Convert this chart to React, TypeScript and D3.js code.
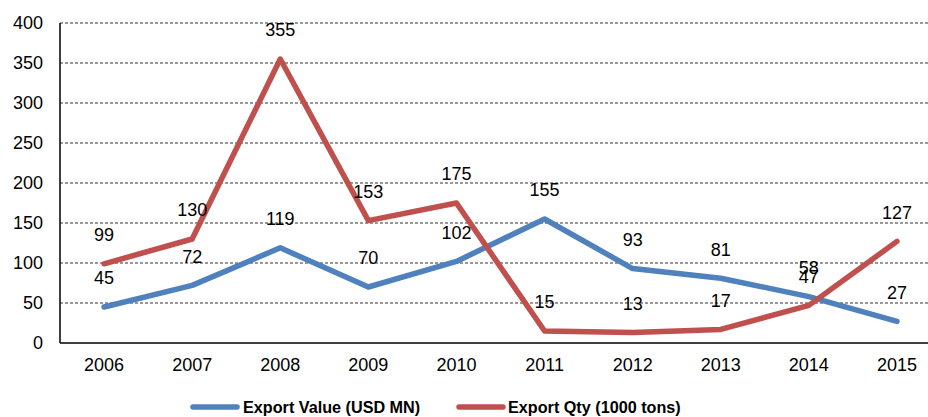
import React from "react";
import * as d3 from "d3";

const years = ["2006","2007","2008","2009","2010","2011","2012","2013","2014","2015"];
const exportValue = [45, 72, 119, 70, 102, 155, 93, 81, 58, 27];
const exportQty = [99, 130, 355, 153, 175, 15, 13, 17, 47, 127];
const yTicks = [0, 50, 100, 150, 200, 250, 300, 350, 400];
const seriesNames = ["Export Value (USD MN)", "Export Qty (1000 tons)"];

const W = 928, H = 417;
const left = 60, bottom = 343, top = 23;
const step = 88.1;

export default function App() {
  const x = d3.scaleBand().domain(years).range([left, left + step * years.length]).paddingInner(0).paddingOuter(0);
  const cx = (d: string) => (x(d) as number) + x.bandwidth() / 2;
  const y = d3.scaleLinear().domain([0, 400]).range([bottom, top]);
  const line = d3.line<number>().x((_, i) => cx(years[i])).y((v) => y(v));
  const font = "Arial, 'Liberation Sans', sans-serif";
  const series = [
    { data: exportValue, color: "#4F81BD" },
    { data: exportQty, color: "#C0504D" },
  ];
  return (
    <svg width={W} height={H} style={{ position: "absolute", left: 0, top: 0 }} fontFamily={font}>
      <rect width={W} height={H} fill="#fff" />
      {yTicks.filter((t) => t > 0).map((t) => (
        <line key={t} x1={left} x2={W} y1={y(t)} y2={y(t)} stroke="#333" strokeWidth={1} strokeDasharray="3,2" />
      ))}
      {yTicks.map((t) => (
        <text key={t} x={43} y={y(t)} dy="0.35em" textAnchor="end" fontSize={18} fill="#000">{t}</text>
      ))}
      <line x1={left} x2={left} y1={top} y2={bottom} stroke="#000" strokeWidth={1.5} />
      <line x1={left} x2={W} y1={bottom} y2={bottom} stroke="#000" strokeWidth={1.5} />
      {years.map((yr) => (
        <text key={yr} x={cx(yr)} y={365} dy="0.35em" textAnchor="middle" fontSize={18} fill="#000">{yr}</text>
      ))}
      {series.map((s, i) => (
        <path key={i} d={line(s.data) || ""} fill="none" stroke={s.color} strokeWidth={5.5} strokeLinecap="round" strokeLinejoin="round" />
      ))}
      {series.map((s, i) =>
        s.data.map((v, j) => (
          <text key={`${i}-${j}`} x={cx(years[j])} y={y(v) - 29} dy="0.35em" textAnchor="middle" fontSize={18} fill="#000">{v}</text>
        ))
      )}
      <g>
        <line x1={193} x2={237} y1={407} y2={407} stroke="#4F81BD" strokeWidth={5.5} strokeLinecap="round" />
        <text x={243} y={407} dy="0.35em" fontSize={16.2} fontWeight="bold" fill="#000">{seriesNames[0]}</text>
        <line x1={459} x2={503} y1={407} y2={407} stroke="#C0504D" strokeWidth={5.5} strokeLinecap="round" />
        <text x={508} y={407} dy="0.35em" fontSize={16.2} fontWeight="bold" fill="#000">{seriesNames[1]}</text>
      </g>
    </svg>
  );
}
